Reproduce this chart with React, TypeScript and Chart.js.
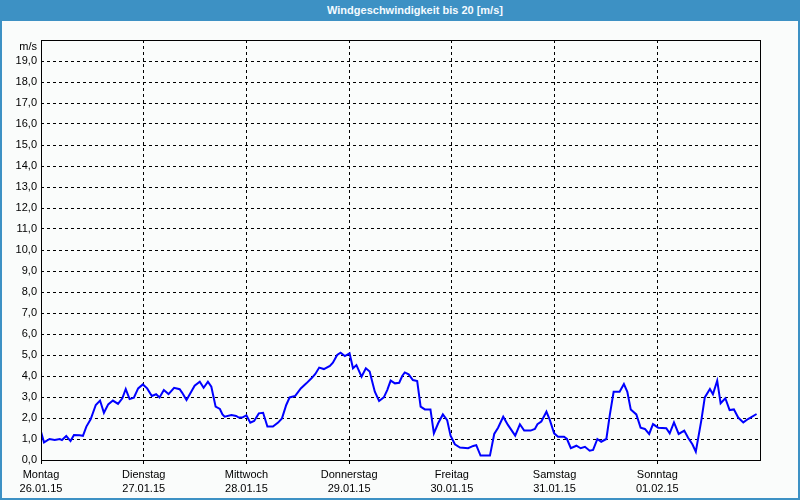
import React, { useEffect, useRef } from "react";
import { Chart, registerables } from "chart.js";

Chart.register(...registerables);

const title = "Windgeschwindigkeit bis 20 [m/s]";
const unitLabel = "m/s";
const dayNames = ["Montag", "Dienstag", "Mittwoch", "Donnerstag", "Freitag", "Samstag", "Sonntag"];
const dayDates = ["26.01.15", "27.01.15", "28.01.15", "29.01.15", "30.01.15", "31.01.15", "01.02.15"];

// hours since 26.01.15 00:00
const hours = [
  0, 0.7, 2.0, 3.2, 4.4, 4.9, 5.9, 6.9, 7.7, 9.0, 9.8, 10.6, 11.6, 12.8, 13.8, 14.7, 15.7, 16.8, 18.0, 19.0,
  19.8, 20.7, 21.7, 22.7, 23.8, 24.8, 25.9, 26.9, 27.7, 28.7, 29.8, 31.1, 32.4, 33.0, 34.0, 34.8, 35.9, 37.1,
  38.0, 39.0, 39.8, 40.8, 41.8, 42.4, 42.9, 44.5, 45.6, 46.2, 47.0, 48.0, 48.9, 49.8, 50.9, 51.9, 52.9, 54.2,
  55.4, 56.3, 57.3, 58.1, 59.4, 60.7, 62.0, 63.2, 64.1, 65.0, 66.1, 67.5, 68.2, 69.2, 70.0, 71.0, 72.1, 72.9,
  73.7, 74.9, 75.9, 76.8, 77.4, 78.0, 79.0, 80.1, 80.9, 81.7, 82.7, 83.7, 84.4, 85.0, 85.9, 86.9, 87.9, 88.7,
  89.7, 91.0, 91.8, 92.8, 93.9, 94.9, 95.7, 96.7, 97.9, 99.8, 101.0, 101.7, 102.7, 104.9, 105.9, 106.8, 108.0,
  109.1, 110.8, 111.9, 112.9, 114.4, 115.4, 116.0, 116.9, 118.1, 118.9, 119.9, 120.8, 122.2, 122.9, 123.8,
  125.1, 126.1, 127.1, 128.2, 129.0, 130.0, 130.9, 132.1, 132.9, 133.8, 135.2, 136.2, 137.0, 137.8, 139.1,
  140.1, 141.1, 142.1, 143.0, 144.2, 146.1, 146.9, 147.9, 149.0, 150.3, 151.2, 152.2, 153.0, 154.3, 155.1,
  156.3, 157.0, 158.0, 158.8, 159.9, 160.9, 161.9, 162.9, 164.1, 165.2, 167.2,
];

const speeds = [
  1.35, 0.84, 1.0, 0.95, 1.0, 0.95, 1.14, 0.9, 1.19, 1.18, 1.15, 1.59, 1.94, 2.62, 2.83, 2.25, 2.65, 2.83, 2.67, 2.94,
  3.38, 2.9, 2.97, 3.41, 3.6, 3.41, 3.05, 3.13, 2.98, 3.33, 3.14, 3.44, 3.37, 3.2, 2.86, 3.14, 3.54, 3.73,
  3.44, 3.73, 3.49, 2.54, 2.43, 2.17, 2.06, 2.14, 2.1, 2.02, 2.02, 2.13, 1.78, 1.86, 2.22, 2.25, 1.59, 1.59,
  1.78, 1.98, 2.62, 2.98, 3.05, 3.41, 3.65, 3.89, 4.1, 4.4, 4.33, 4.48, 4.63, 5.0, 5.11, 4.95, 5.08, 4.37,
  4.52, 3.97, 4.37, 4.21, 3.73, 3.25, 2.81, 2.98, 3.33, 3.78, 3.65, 3.68, 4.0, 4.17, 4.08, 3.81, 3.76, 2.54,
  2.41, 2.41, 1.27, 1.75, 2.17, 1.9, 1.16, 0.75, 0.59, 0.56, 0.67, 0.71, 0.21, 0.21, 1.24, 1.54, 2.06,
  1.67, 1.16, 1.7, 1.4, 1.4, 1.48, 1.7, 1.83, 2.3, 1.9, 1.27, 1.11, 1.11, 1.0, 0.56,
  0.68, 0.56, 0.63, 0.44, 0.48, 1.0, 0.87, 1.0, 2.14, 3.25, 3.25, 3.62, 3.25, 2.41, 2.17,
  1.54, 1.48, 1.24, 1.71, 1.54, 1.51, 1.27, 1.79, 1.24, 1.4, 1.06, 0.75, 0.4, 1.9, 2.98,
  3.38, 3.13, 3.78, 2.7, 2.94, 2.38, 2.41, 2.02, 1.79, 1.95, 2.19,
];

const yMax = 20;
const xMax = 168;

const FONT = "'Liberation Sans', Arial, sans-serif";
const FRAME_BLUE = "#3d91c4";
const BG = "#fafcfb";

const framePlugin = {
  id: "framePlugin",
  afterDraw(chart: any) {
    const { ctx, chartArea } = chart;
    const l = Math.round(chartArea.left);
    const r = Math.round(chartArea.right);
    const t = Math.round(chartArea.top);
    const b = Math.round(chartArea.bottom);
    ctx.save();
    ctx.strokeStyle = "#000";
    ctx.lineWidth = 1;
    ctx.setLineDash([]);
    ctx.strokeRect(l + 0.5, t + 0.5, r - l, b - t);
    ctx.fillStyle = "#000";
    ctx.font = `11px ${FONT}`;
    ctx.textAlign = "right";
    ctx.textBaseline = "middle";
    ctx.fillText(unitLabel, chartArea.left - 4, chartArea.top + 7);
    ctx.restore();
  },
};

export default function App() {
  const canvasRef = useRef<HTMLCanvasElement | null>(null);

  useEffect(() => {
    if (!canvasRef.current) return;
    const points = hours.map((h, i) => ({ x: h, y: speeds[i] }));
    const chart = new Chart(canvasRef.current, {
      type: "line",
      data: {
        datasets: [
          {
            data: points,
            borderColor: "#0000ff",
            borderWidth: 2,
            pointRadius: 0,
            tension: 0,
            fill: false,
          },
        ],
      },
      options: {
        animation: false,
        responsive: false,
        maintainAspectRatio: false,
        layout: { padding: { top: 40, right: 40, left: 0, bottom: 0 } },
        plugins: {
          legend: { display: false },
          title: { display: false },
          tooltip: { enabled: false },
        },
        scales: {
          x: {
            type: "linear",
            min: 0,
            max: xMax,
            afterFit(axis: any) {
              axis.height = 40;
            },
            ticks: {
              stepSize: 24,
              autoSkip: false,
              maxRotation: 0,
              padding: 4,
              color: "#000",
              font: { family: FONT, size: 11, lineHeight: 1.27 },
              callback(value: any) {
                const idx = Math.round(Number(value) / 24);
                if (idx >= 0 && idx < dayNames.length) return [dayNames[idx], dayDates[idx]];
                return "";
              },
            },
            grid: {
              color: (c: any) => (c.tick && c.tick.value >= xMax ? "rgba(0,0,0,0)" : "#000"),
              lineWidth: 1,
              tickLength: 4,
              drawTicks: true,
            },
            border: { display: false, dash: [3, 3] },
          },
          y: {
            min: 0,
            max: yMax,
            afterFit(axis: any) {
              axis.width = 41;
            },
            ticks: {
              stepSize: 1,
              autoSkip: false,
              padding: 4,
              color: "#000",
              font: { family: FONT, size: 11 },
              callback(value: any) {
                const v = Number(value);
                if (v >= yMax) return "";
                return v.toFixed(1).replace(".", ",");
              },
            },
            grid: {
              color: "#000",
              lineWidth: 1,
              drawTicks: false,
            },
            border: { display: false, dash: [3, 3] },
          },
        },
      },
      plugins: [framePlugin],
    } as any);
    return () => chart.destroy();
  }, []);

  return (
    <div
      style={{
        position: "absolute",
        left: 0,
        top: 0,
        width: 800,
        height: 500,
        boxSizing: "border-box",
        background: BG,
        borderLeft: `2px solid ${FRAME_BLUE}`,
        borderRight: `2px solid ${FRAME_BLUE}`,
        borderBottom: `2px solid ${FRAME_BLUE}`,
        overflow: "hidden",
      }}
    >
      <div
        style={{
          position: "absolute",
          left: -2,
          top: 0,
          width: 800,
          height: 21,
          background: FRAME_BLUE,
          color: "#f4fbff",
          font: `bold 11px ${FONT}`,
          lineHeight: "21px",
          textAlign: "center",
          paddingLeft: 30,
          boxSizing: "border-box",
        }}
      >
        {title}
      </div>
      <canvas
        ref={canvasRef}
        width={800}
        height={500}
        style={{ position: "absolute", left: -2, top: 0, width: 800, height: 500 }}
      />
    </div>
  );
}
